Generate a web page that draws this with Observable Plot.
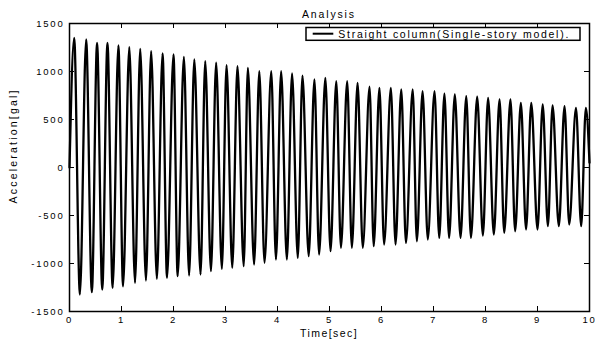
<!DOCTYPE html>
<html><head><meta charset="utf-8">
<script src="https://cdn.jsdelivr.net/npm/d3@7"></script>
<script src="https://cdn.jsdelivr.net/npm/@observablehq/plot@0.6"></script>
<style>body{margin:0;background:#fff} svg{display:block}</style>
</head><body><div id="chart"></div>
<script>
// Extrema (start, alternating peaks/troughs, end)
const extremaTime = [0,
 0.09,0.20, 0.32,0.43, 0.53,0.63, 0.73,0.83, 0.94,1.03,
 1.15,1.26, 1.36,1.47, 1.57,1.68, 1.79,1.875, 2.00,2.08,
 2.20,2.30, 2.40,2.52, 2.61,2.72, 2.82,2.93, 3.02,3.13,
 3.23,3.35, 3.43,3.55, 3.65,3.75, 3.88,3.97, 4.07,4.18,
 4.28,4.39, 4.48,4.60, 4.71,4.80, 4.92,5.02, 5.13,5.22,
 5.34,5.43, 5.54,5.64, 5.77,5.85, 5.96,6.05, 6.18,6.27,
 6.38,6.47, 6.60,6.68, 6.79,6.89, 7.02,7.11, 7.21,7.30,
 7.41,7.52, 7.63,7.72, 7.84,7.95, 8.05,8.16, 8.27,8.36,
 8.48,8.57, 8.68,8.78, 8.88,9.00, 9.10,9.20, 9.29,9.41,
 9.52,9.61, 9.74,9.84, 9.93, 10.0];
const extremaAccel = [0,
 1351,-1323, 1334,-1299, 1299,-1271, 1299,-1254, 1271,-1237,
 1254,-1201, 1236,-1177, 1212,-1160, 1188,-1149, 1177,-1132,
 1153,-1125, 1125,-1115, 1108,-1080, 1091,-1056, 1066,-1045,
 1055,-1028, 1038,-1011, 1003,-993, 1003,-959, 1003,-959,
 979,-941, 958,-924, 917,-907, 934,-872, 899,-837,
 899,-837, 882,-837, 841,-820, 830,-802, 830,-802,
 813,-785, 813,-768, 795,-750, 795,-733, 768,-733,
 761,-733, 743,-733, 737,-709, 726,-698, 709,-681,
 709,-664, 674,-646, 674,-646, 657,-611, 646,-611,
 639,-594, 622,-611, 622, 50];
const xTicks = [0,1,2,3,4,5,6,7,8,9,10];
const yTicks = [-1500,-1000,-500,0,500,1000,1500];
const titleText = "Analysis";
const xLabel = "Time[sec]";
const yLabel = "Acceleration[gal]";
const legendLabel = "Straight column(Single-story model).";

const W = 596, H = 343, mL = 69, mR = 7, mT = 23, mB = 32;
const pw = W - mL - mR, ph = H - mT - mB, tk = 5;
const data = extremaTime.map((t, i) => ({t, a: extremaAccel[i]}));
const font = "'Liberation Sans', Arial, Helvetica, sans-serif";

const chart = Plot.plot({
  width: W, height: H,
  marginLeft: mL, marginRight: mR, marginTop: mT, marginBottom: mB,
  style: {fontFamily: font, fontSize: "9.5px", color: "#000", background: "#fff", letterSpacing: "1.8px"},
  x: {domain: [0, 10]},
  y: {domain: [-1500, 1500]},
  marks: [
    Plot.line(data, {x: "t", y: "a", stroke: "#000", strokeWidth: 2.3, curve: "monotone-x"}),
    Plot.tickX(xTicks, {x: d => d, insetTop: ph - tk, stroke: "#000"}),
    Plot.tickX(xTicks, {x: d => d, insetBottom: ph - tk, stroke: "#000"}),
    Plot.tickY(yTicks, {y: d => d, insetRight: pw - tk, stroke: "#000"}),
    Plot.tickY(yTicks, {y: d => d, insetLeft: pw - tk, stroke: "#000"}),
    Plot.axisX({ticks: xTicks, tickSize: 0, tickPadding: 5, label: null, tickFormat: d => String(d)}),
    Plot.axisY({ticks: yTicks, tickSize: 0, tickPadding: 5, label: null, tickFormat: d => String(d)}),
    Plot.frame({stroke: "#000", strokeWidth: 1.5})
  ]
});
document.getElementById("chart").appendChild(chart);

const svg = d3.select(chart);
const addText = (x, y, txt, len, size, rot) => {
  const t = svg.append("text")
    .attr("x", x).attr("y", y)
    .attr("text-anchor", "middle")
    .attr("font-family", font).attr("font-size", size)
    .attr("fill", "#000")
    .attr("textLength", len).attr("lengthAdjust", "spacing")
    .style("letter-spacing", "0px")
    .text(txt);
  if (rot) t.attr("transform", `rotate(-90 ${x} ${y})`);
  return t;
};
addText(328, 17.5, titleText, 52, 10.5);
addText(328.3, 337.3, xLabel, 56.7, 10.5);
addText(17, 147, yLabel, 113, 10.5, true);

// legend
const lg = svg.append("g");
lg.append("rect").attr("x", 306).attr("y", 27.5).attr("width", 274).attr("height", 12.8)
  .attr("fill", "#fff").attr("stroke", "#000").attr("stroke-width", 1.5);
lg.append("line").attr("x1", 312.7).attr("x2", 333.3).attr("y1", 33.7).attr("y2", 33.7)
  .attr("stroke", "#000").attr("stroke-width", 2);
lg.append("text").attr("x", 338.3).attr("y", 37.5).attr("text-anchor", "start")
  .attr("font-family", font).attr("font-size", 10.5)
  .attr("textLength", 230).attr("lengthAdjust", "spacing").style("letter-spacing", "0px")
  .attr("fill", "#000").text(legendLabel);
</script>
</body></html>
